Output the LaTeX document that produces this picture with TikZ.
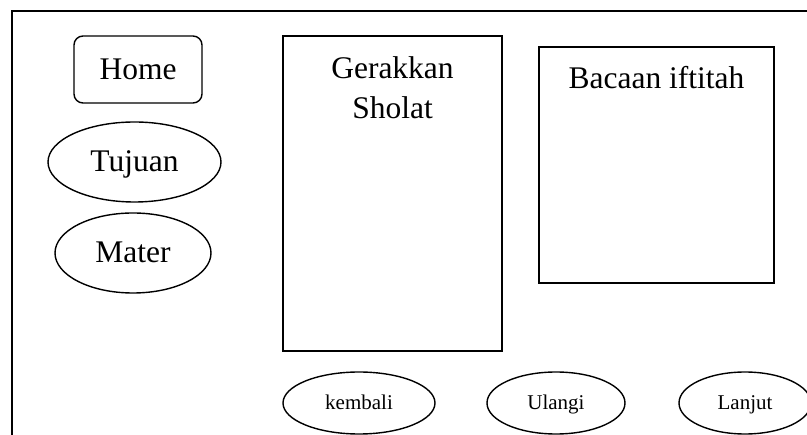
\documentclass[tikz,border=0pt]{standalone}
\usepackage{fontspec}
\setmainfont{Liberation Serif}
\usetikzlibrary{shapes.geometric}

\tikzset{
  bigtext/.style={font=\fontsize{31.5}{40}\selectfont},
  smalltext/.style={font=\fontsize{21}{25}\selectfont},
  menubox/.style={draw, rounded corners=9pt, line width=1.4pt, bigtext,
    minimum width=128pt, minimum height=67pt, text height=24pt, text depth=4pt},
  menuoval/.style={draw, ellipse, line width=1.4pt, inner sep=0pt, bigtext,
    minimum height=80pt, text height=24pt, text depth=4pt},
  panel/.style={draw, line width=1.4pt, inner sep=0pt},
  navoval/.style={draw, ellipse, line width=1.4pt, inner sep=0pt, smalltext,
    minimum height=62pt, text height=16pt, text depth=2pt}
}

\begin{document}
\begin{tikzpicture}[x=1pt,y=-1pt]
\clip (0,0) rectangle (807,435);

% frame
\draw[line width=2pt] (12,11) rectangle (840,470);

% menu
\node[menubox] (home) at (138,69.5) {Home};
\node[menuoval, minimum width=173pt] (tujuan) at (134.5,162) {Tujuan};
\node[menuoval, minimum width=156pt] (mater) at (133,253) {Mater};

% panels
\node[panel, minimum width=219pt, minimum height=315pt] (gerakan) at (392.5,193.5) {};
\node[bigtext, anchor=base, align=center] (gerakanlbl) at (392.5,119) {Gerakkan\\Sholat};
\node[panel, minimum width=235pt, minimum height=236pt] (bacaan) at (656.5,165) {};
\node[bigtext, anchor=base] (bacaanlbl) at (656.5,89) {Bacaan iftitah};

% buttons
\node[navoval, minimum width=152pt] (kembali) at (359,403) {kembali};
\node[navoval, minimum width=138pt] (ulangi) at (556,403) {Ulangi};
\node[navoval, minimum width=132pt] (lanjut) at (745,403) {Lanjut};
\end{tikzpicture}
\end{document}
